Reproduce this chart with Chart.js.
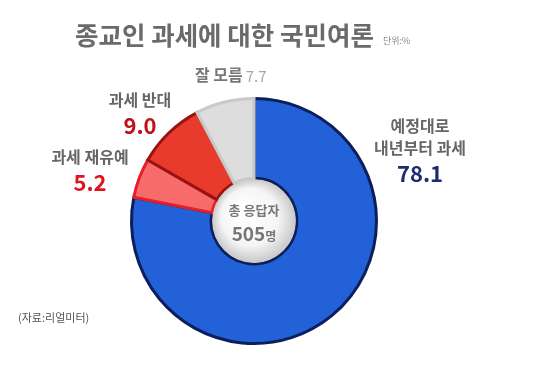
<!DOCTYPE html>
<html>
<head>
    <title></title>
    <meta charset="utf-8" />
    <style>
        body { margin: 0; background: #fff; }
        #wrap { width: 540px; height: 367px; position: relative; }
    </style>
    <script src="https://cdn.jsdelivr.net/npm/chart.js"></script>
</head>
<body>
<div id="wrap"><canvas id="myChart" width="540" height="367"></canvas></div>
<script>
const title = '종교인 과세에 대한 국민여론';
const unit = '단위:%';
const source = '(자료:리얼미터)';
const labels = ['예정대로 내년부터 과세', '과세 재유예', '과세 반대', '잘 모름'];
const values = [78.1, 5.2, 9.0, 7.7];
const fills = ['#2361d8', '#f86b6b', '#e83b2c', '#dddddd'];
const borders = ['#0b1f5c', '#e41e2b', '#9a1212', '#c9c9c9'];
const centerText = ['총 응답자', '505', '명'];

const FONT = '"Noto Sans CJK KR", "Noto Sans", sans-serif';

// text around the ring: [label lines, value, label color, value color, x, y]
const notes = [
    [['예정대로', '내년부터 과세'], values[0].toFixed(1), '#666', '#1b2d6b', 420, 126],
    [['과세 재유예'], values[1].toFixed(1), '#666', '#e0121c', 90, 157],
    [['과세 반대'], values[2].toFixed(1), '#666', '#c01018', 140, 100],
];

const deco = {
    id: 'deco',
    afterDatasetsDraw(chart) {
        const c = chart.ctx;
        const arc = chart.getDatasetMeta(0).data[0];
        const x = arc.x, y = arc.y, r = arc.innerRadius - 1;
        // center disc
        let g = c.createRadialGradient(x - 12, y - 12, 4, x, y, r);
        g.addColorStop(0, '#ffffff');
        g.addColorStop(0.65, '#f5f5f5');
        g.addColorStop(1, '#c8c8c8');
        c.save();
        c.beginPath();
        c.arc(x, y, r, 0, Math.PI * 2);
        c.fillStyle = g;
        c.fill();
        c.textAlign = 'center';
        c.textBaseline = 'middle';
        c.fillStyle = '#777';
        c.font = 'bold 13px ' + FONT;
        c.fillText(centerText[0], x, y - 11);
        c.font = 'bold 19px ' + FONT;
        const w1 = c.measureText(centerText[1]).width;
        c.font = 'bold 12px ' + FONT;
        const w2 = c.measureText(centerText[2]).width;
        const sx = x - (w1 + w2) / 2;
        c.textAlign = 'left';
        c.font = 'bold 19px ' + FONT;
        c.fillText(centerText[1], sx, y + 13);
        c.font = 'bold 12px ' + FONT;
        c.fillText(centerText[2], sx + w1, y + 15);

        // title
        c.fillStyle = '#6a6a6a';
        c.font = 'bold 25.5px ' + FONT;
        c.textAlign = 'left';
        c.fillText(title, 75, 35);
        const tw = c.measureText(title).width;
        c.font = '9px ' + FONT;
        c.fillStyle = '#888';
        c.fillText(unit, 75 + tw + 9, 41);

        // ring notes
        c.textAlign = 'center';
        notes.forEach(n => {
            let yy = n[5];
            n[0].forEach(line => {
                c.font = 'bold 16px ' + FONT;
                c.fillStyle = n[2];
                c.fillText(line, n[4], yy);
                yy += 22;
            });
            c.font = 'bold 22px ' + FONT;
            c.fillStyle = n[3];
            c.fillText(n[1], n[4], yy + 4);
        });

        // 잘 모름 7.7 on one line
        c.textAlign = 'left';
        c.font = 'bold 16px ' + FONT;
        c.fillStyle = '#777';
        c.fillText(labels[3], 195, 75);
        const lw = c.measureText(labels[3]).width;
        c.font = '15px ' + FONT;
        c.fillStyle = '#a5a5a5';
        c.fillText(values[3].toFixed(1), 195 + lw + 3, 76);

        // source
        c.font = '11px ' + FONT;
        c.fillStyle = '#555';
        c.fillText(source, 18, 318);
        c.restore();
    }
};

let ctx = document.getElementById('myChart').getContext('2d');
let myChart = new Chart(ctx, {
    type: 'doughnut',
    data: {
        labels: labels,
        datasets: [{
            data: values,
            backgroundColor: fills,
            borderColor: borders,
            borderWidth: 3,
            borderJoinStyle: 'miter'
        }]
    },
    options: {
        responsive: false,
        animation: false,
        cutout: '35%',
        layout: { padding: { top: 97, bottom: 22, left: 130, right: 162 } },
        plugins: { legend: { display: false }, tooltip: { enabled: false } }
    },
    plugins: [deco]
});
</script>
</body>
</html>
